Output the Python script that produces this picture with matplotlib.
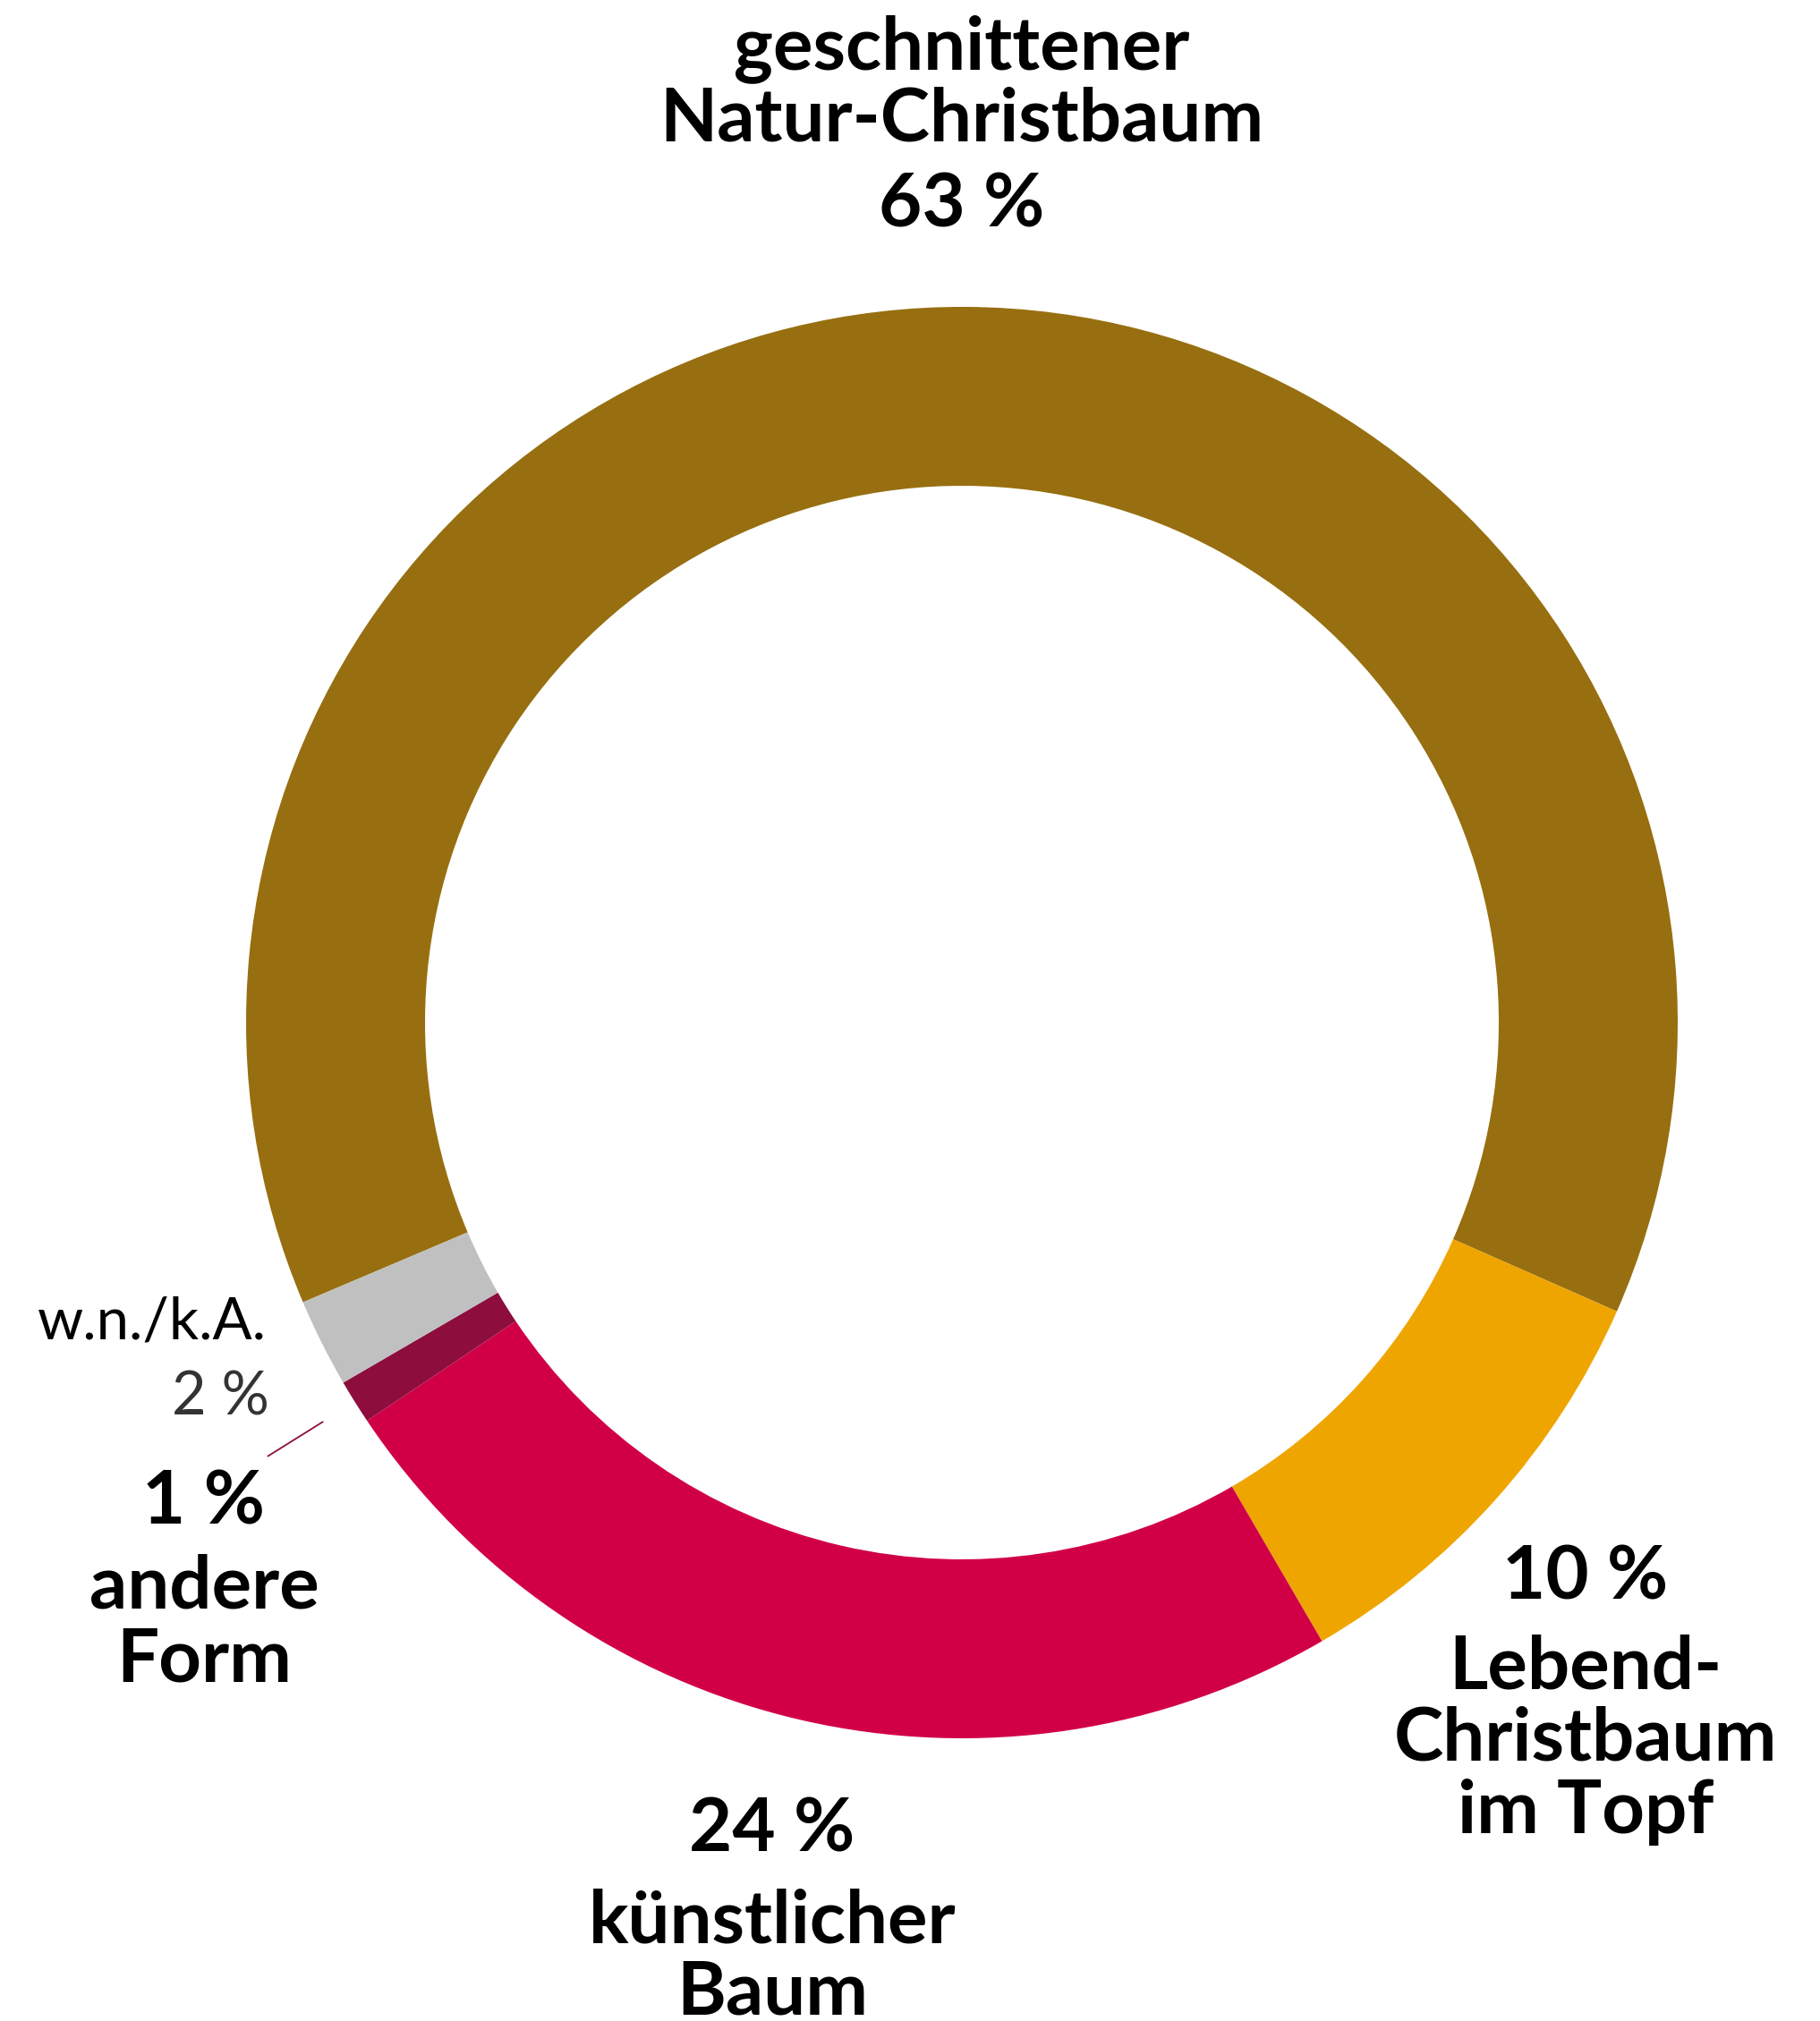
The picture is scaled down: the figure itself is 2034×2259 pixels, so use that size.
import numpy as np
import matplotlib
matplotlib.use("Agg")
import matplotlib.pyplot as plt

# ---- data ----
categories = ["geschnittener Natur-Christbaum", "Lebend-Christbaum im Topf",
              "künstlicher Baum", "andere Form", "w.n./k.A."]
values = [63, 10, 24, 1, 2]
colors = ["#976F10", "#EFA500", "#D10046", "#8D0E3D", "#C0C0C0"]
label_lines = [
    ["geschnittener", "Natur-Christbaum"],
    ["Lebend-", "Christbaum", "im Topf"],
    ["künstlicher", "Baum"],
    ["andere", "Form"],
    ["w.n./k.A."],
]

W, H = 2034, 2259
DPI = 100
CX, CY, R = 1075, 1143, 800  # pixel geometry of the ring

plt.rcParams['font.family'] = ['Lato', 'DejaVu Sans']
fig = plt.figure(figsize=(W / DPI, H / DPI), dpi=DPI)
fig.patch.set_facecolor("white")
ax = fig.add_axes([0, 0, 1, 1])

START = 203.0
wedges, _ = ax.pie(values, colors=colors, startangle=START, counterclock=False,
                   radius=1.0, center=(0, 0),
                   wedgeprops=dict(width=0.25, linewidth=0))

ax.set_xlim(-CX / R, (W - CX) / R)
ax.set_ylim(-(H - CY) / R, CY / R)
ax.set_aspect('equal')
ax.axis('off')

def px(x, y):
    return (x - CX) / R, (CY - y) / R

BOLD = dict(fontsize=60, fontweight='bold', color='black', ha='center', va='baseline')

def block(xc, baselines, lines):
    for (txt, yb) in zip(lines, baselines):
        x, y = px(xc, yb)
        ax.text(x, y, txt, **BOLD)

# top label: text lines then percentage
block(1075, [77, 158], label_lines[0])
x, y = px(1075, 254)
ax.text(x, y, f"{values[0]} %", **BOLD)

# right label: percentage then text
x, y = px(1772, 1787)
ax.text(x, y, f"{values[1]} %", **BOLD)
block(1772, [1887, 1968, 2049], label_lines[1])

# bottom label
x, y = px(863, 2069)
ax.text(x, y, f"{values[2]} %", **BOLD)
block(863, [2171, 2252], label_lines[2])

# left label (andere Form)
x, y = px(228, 1704)
ax.text(x, y, f"{values[3]} %", **BOLD)
block(228, [1798, 1880], label_lines[3])

# w.n./k.A. (regular weight)
x, y = px(298, 1497)
ax.text(x, y, label_lines[4][0], fontsize=47, fontweight='normal', color='black',
        ha='right', va='baseline')
x, y = px(301, 1581)
ax.text(x, y, f"{values[4]} %", fontsize=48, fontweight='normal', color='#333333',
        ha='right', va='baseline')

# leader line for the 1 % wedge
cum = np.cumsum([0] + values)
mid = np.deg2rad(START - 360 * (cum[3] + values[3] / 2) / 100)
r0, r1 = 1.052, 1.144
ax.plot([r0 * np.cos(mid), r1 * np.cos(mid)], [r0 * np.sin(mid), r1 * np.sin(mid)],
        color=colors[3], linewidth=1.3, solid_capstyle='butt')

fig.savefig("out.png", dpi=DPI, facecolor="white")
